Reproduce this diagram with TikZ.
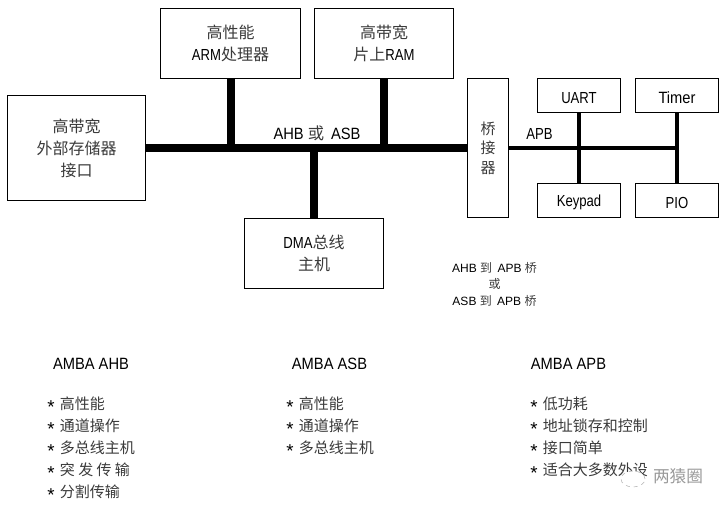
\documentclass[tikz,border=0pt]{standalone}
\usepackage{fontspec}
\usepackage{xcolor}
\usetikzlibrary{shapes.geometric}
\setmainfont{Liberation Sans}
\newfontfamily\cjk{Noto Sans CJK SC}
\newfontfamily\narrowfont[FakeStretch=0.82]{Liberation Sans}
\newfontfamily\titlefont[FakeStretch=0.9]{Liberation Sans}
\newcommand{\zh}[1]{{\cjk\color{zhgray}#1}}
\newcommand{\zhitem}[1]{\makebox[9.5pt][l]{\raisebox{-2.5pt}{\fontsize{14}{14}\selectfont *}}\zh{#1}}
\definecolor{zhgray}{HTML}{3A3A3A}
\tikzset{
  blockbox/.style={draw=black, line width=0.75pt, fill=white, inner sep=0pt, align=center,
    font=\narrowfont\fontsize{12}{16.5}\selectfont, execute at begin node={\rule{0pt}{11.5pt}}},
  bigbox/.style={blockbox, minimum width=104.6pt, minimum height=52.1pt},
  smallbox/.style={blockbox, minimum width=62.6pt, minimum height=25.9pt},
  ahbline/.style={line width=6pt},
  apbline/.style={line width=3pt},
  plaintext/.style={inner sep=0pt, font=\titlefont\fontsize{12.25}{16.5}\selectfont},
  notetext/.style={inner sep=0pt, align=center, font=\fontsize{9}{12.4}\selectfont},
  listtext/.style={inner sep=0pt, anchor=north west, align=left, font=\fontsize{11.25}{16.5}\selectfont}
}

\begin{document}
\begin{tikzpicture}[x=0.75pt, y=-0.75pt]
        % Page
        \useasboundingbox (0,0) rectangle (728,507);
        % Blocks on the fast bus
        \node[bigbox, minimum width=103.9pt, minimum height=78.4pt] (extmem) at (76.5,148)
          {\zh{高带宽}\\\zh{外部存储器}\\\zh{接口}};
        \node[bigbox] (armcpu) at (230.5,43.5) {\zh{高性能}\\ARM\zh{处理器}};
        \node[bigbox] (onchipram) at (384,43.5) {\zh{高带宽}\\\zh{片上}RAM};
        \node[bigbox] (dmamaster) at (314,253.5) {DMA\zh{总线}\\\zh{主机}};
        % Bridge
        \node[blockbox, minimum width=31.4pt, minimum height=104.6pt,
          font=\fontsize{11.25}{14.5}\selectfont, execute at begin node={}] (bridge) at (488,148) {\zh{桥}\\\zh{接}\\\zh{器}};
        % Blocks on the slow bus
        \node[smallbox] (uart) at (579,95.5) {UART};
        \node[smallbox, font=\titlefont\fontsize{12.25}{16.5}\selectfont] (timer) at (677,95.5) {Timer};
        \node[smallbox] (keypad) at (579,200.5) {Keypad};
        \node[smallbox] (pio) at (677,200.5) {PIO};
        \coordinate (apbend) at (677,148);
        % Buses
        \draw[ahbline] (extmem.east) -- (bridge.west);
        \draw[ahbline] (armcpu.south) -- (armcpu.south |- bridge.west);
        \draw[ahbline] (onchipram.south) -- (onchipram.south |- bridge.west);
        \draw[ahbline] (dmamaster.north) -- (dmamaster.north |- bridge.west);
        \draw[apbline] (bridge.east) -- (apbend);
        \draw[apbline] (uart.south) -- (keypad.north);
        \draw[apbline] (timer.south) -- (pio.north);
        % Bus labels
        \node[plaintext] (ahblabel) at (317,133) {AHB \zh{或}\, ASB};
        \node[plaintext, font=\narrowfont\fontsize{12}{12}\selectfont] (apblabel) at (539.5,134) {APB};
        \node[notetext] (bridgenote) at (494.5,284) {AHB \zh{到}\, APB \zh{桥}\\\zh{或}\\ASB \zh{到}\, APB \zh{桥}};
        % Lists
        \node[plaintext] (ahbtitle) at (91,364) {AMBA AHB};
        \node[plaintext] (asbtitle) at (329.5,364) {AMBA ASB};
        \node[plaintext] (apbtitle) at (568.5,364) {AMBA APB};
        \node[listtext] (ahblist) at (47,397)
          {\zhitem{高性能}\\\zhitem{通道操作}\\\zhitem{多总线主机}\\\zhitem{突 发 传 输}\\\zhitem{分割传输}};
        \node[listtext] (asblist) at (286,397)
          {\zhitem{高性能}\\\zhitem{通道操作}\\\zhitem{多总线主机}};
        \node[listtext] (apblist) at (530,397)
          {\zhitem{低功耗}\\\zhitem{地址锁存和控制}\\\zhitem{接口简单}\\\zhitem{适合大多数外设}};
        % Watermark
        \node[ellipse, fill=white, draw=gray!60, line width=0.4pt, dashed, minimum width=18pt,
          minimum height=12pt, inner sep=0pt] (markicon) at (633,479) {};
        \node[plaintext, text=gray!80, font=\fontsize{12.5}{14}\selectfont] (marktext) at (678,476) {\cjk 两猿圈};
      \end{tikzpicture}
\end{document}
